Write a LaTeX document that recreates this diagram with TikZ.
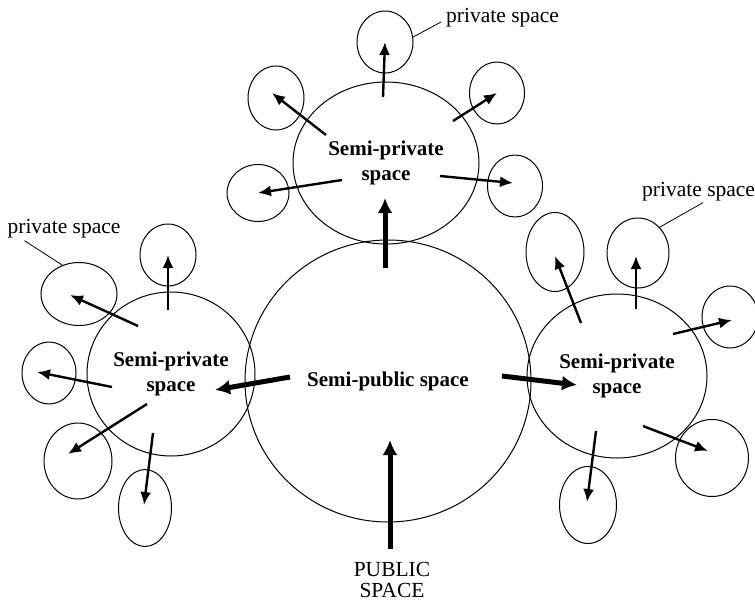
\documentclass[tikz,border=0pt]{standalone}
\usepackage{fontspec}
\setmainfont{Liberation Serif}
\usetikzlibrary{shapes.geometric,arrows.meta}

\begin{document}
\begin{tikzpicture}[x=1pt,y=-1pt,
  zone/.style n args={2}{draw,ellipse,line width=1pt,inner sep=0pt,
    minimum width=#1,minimum height=#2,align=center},
  semi/.style={font=\fontsize{21}{25}\selectfont\bfseries},
  lbl/.style={font=\fontsize{21.5}{21}\selectfont,inner sep=1pt,align=center},
  arr/.style={line width=2.4pt,-{Latex[length=13pt,width=11pt]}},
  thickarr/.style={line width=5pt,-{Latex[length=15pt,width=15pt]}},
  lead/.style={line width=0.8pt}]
\useasboundingbox (0,0) rectangle (755,603);

% the four spaces
\node[zone={286}{282},semi] (pub) at (388,381) {Semi-public space};
\node[zone={186}{162},semi] (top) at (386,163) {Semi-private\\space};
\node[zone={168}{164},semi] (left) at (171,374) {Semi-private\\space};
\node[zone={180}{164},semi] (right) at (617,376) {Semi-private\\space};

% private spaces round the top one
\node[zone={56}{62}] (t1) at (385,42) {};
\node[zone={56}{64}] (t2) at (276,98) {};
\node[zone={55}{62}] (t3) at (497,93) {};
\node[zone={62}{57}] (t4) at (258,193) {};
\node[zone={55}{62}] (t5) at (515,186) {};

% round the left one
\node[zone={56}{62}] (l1) at (168,255) {};
\node[zone={76}{63}] (l2) at (79,294) {};
\node[zone={54}{62}] (l3) at (49,373) {};
\node[zone={68}{76}] (l4) at (78,461) {};
\node[zone={53}{77}] (l5) at (145,508) {};

% round the right one
\node[zone={58}{79}] (r1) at (555,252) {};
\node[zone={62}{70}] (r2) at (638,253) {};
\node[zone={56}{62}] (r3) at (730,317) {};
\node[zone={73}{77}] (r4) at (712,458) {};
\node[zone={57}{77}] (r5) at (588,505) {};

% labels
\node[lbl,anchor=west] (lt) at (445,18) {private space};
\node[lbl] (ll) at (64,229) {private space};
\node[lbl,anchor=west] (lr) at (641,192) {private space};
\node[lbl] (ps) at (392,580) {PUBLIC\\SPACE};

\draw[lead] ([shift={(-4,4)}]lt.west) -- (t1.10);
\draw[lead] ([shift={(18,1)}]ll.south west) -- (l2.120);
\draw[lead] ([shift={(62,0)}]lr.south west) -- (r2.50);

% from public to semi-public and on
\draw[thickarr] ([shift={(-2,-12)}]ps.north) -- ([shift={(2,59)}]pub.center);
\draw[thickarr] ([shift={(-3,-113)}]pub.center) -- ([shift={(-1,35)}]top.center);
\draw[thickarr] ([shift={(-98,-4)}]pub.center) -- ([shift={(44,16)}]left.center);
\draw[thickarr] ([shift={(114,-5)}]pub.center) -- ([shift={(-40,9)}]right.center);

% top
\draw[arr] ([shift={(-3,-66)}]top.center) -- (t1.center);
\draw[arr] ([shift={(-60,-28)}]top.center) -- ([shift={(-4,-5)}]t2.center);
\draw[arr] ([shift={(67,-42)}]top.center) -- (t3.center);
\draw[arr] ([shift={(-44,17)}]top.center) -- (t4.center);
\draw[arr] ([shift={(54,13)}]top.center) -- ([shift={(-2,-3)}]t5.center);

% left
\draw[arr] ([shift={(-3,-64)}]left.center) -- (l1.center);
\draw[arr] ([shift={(-33,-48)}]left.center) -- ([shift={(-9,1)}]l2.center);
\draw[arr] ([shift={(-59,13)}]left.center) -- ([shift={(-12,-1)}]l3.center);
\draw[arr] ([shift={(-24,30)}]left.center) -- ([shift={(-10,-7)}]l4.center);
\draw[arr] ([shift={(-18,59)}]left.center) -- ([shift={(-1,-3)}]l5.center);

% right
\draw[arr] ([shift={(-36,-53)}]right.center) -- ([shift={(0,4)}]r1.center);
\draw[arr] ([shift={(19,-67)}]right.center) -- ([shift={(-2,3)}]r2.center);
\draw[arr] ([shift={(56,-42)}]right.center) -- ([shift={(2,3)}]r3.center);
\draw[arr] ([shift={(26,50)}]right.center) -- ([shift={(-4,-7)}]r4.center);
\draw[arr] ([shift={(-21,55)}]right.center) -- ([shift={(-1,-3)}]r5.center);
\end{tikzpicture}
\end{document}
